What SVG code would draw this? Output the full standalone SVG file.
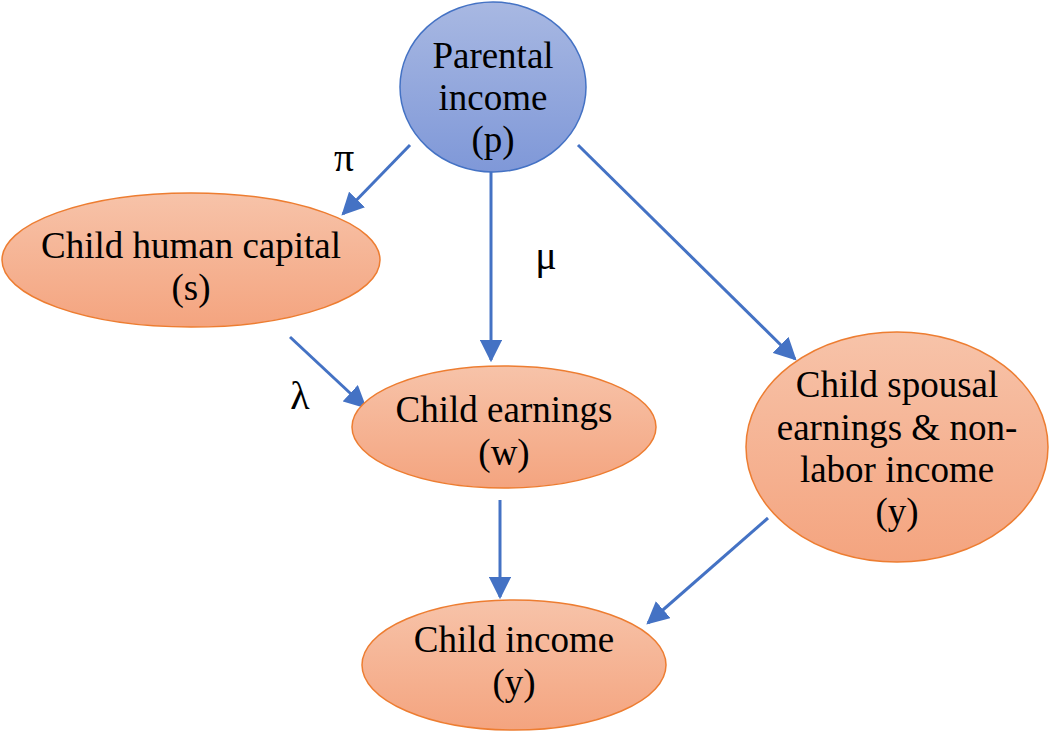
<svg xmlns="http://www.w3.org/2000/svg" width="1049" height="733" viewBox="0 0 1049 733">
<defs>
<linearGradient id="gb" x1="0" y1="0" x2="0" y2="1"><stop offset="0" stop-color="#A8B8E2"/><stop offset="1" stop-color="#7F98D8"/></linearGradient>
<linearGradient id="go" x1="0" y1="0" x2="0" y2="1"><stop offset="0" stop-color="#F7C3A9"/><stop offset="1" stop-color="#F4A47F"/></linearGradient>
<marker id="ah" viewBox="0 0 10 10" refX="9" refY="5" markerWidth="7.5" markerHeight="7.5" markerUnits="strokeWidth" orient="auto"><path d="M0,0 L10,5 L0,10 z" fill="#4472C4"/></marker>
<style>
.o{fill:url(#go);stroke:#ED7D31;stroke-width:1.5}
.b{fill:url(#gb);stroke:#4472C4;stroke-width:1.5}
text{font-family:"Liberation Serif","Times New Roman",serif;font-size:37px;fill:#000;text-anchor:middle}
.g{font-size:40px}
.c line{stroke:#4472C4;stroke-width:3;marker-end:url(#ah)}
</style>
</defs>
<rect width="1049" height="733" fill="#fff"/>
<g class="c" id="connectors">
<line x1="410" y1="145" x2="343" y2="214"/>
<line x1="491" y1="172" x2="491" y2="360"/>
<line x1="578" y1="145" x2="795" y2="359"/>
<line x1="290" y1="337" x2="365" y2="407"/>
<line x1="500" y1="500" x2="500" y2="597"/>
<line x1="768" y1="518" x2="648" y2="623"/>
</g>
<g id="parental"><ellipse class="b" cx="493" cy="87" rx="93" ry="85"/><text x="493" y="68">Parental</text><text x="493" y="110">income</text><text x="493" y="152">(p)</text></g>
<g id="human"><ellipse class="o" cx="191" cy="260" rx="189" ry="67"/><text x="191" y="258">Child human capital</text><text x="191" y="300">(s)</text></g>
<g id="earnings"><ellipse class="o" cx="504" cy="427" rx="152" ry="61"/><text x="504" y="422">Child earnings</text><text x="504" y="465">(w)</text></g>
<g id="spousal"><ellipse class="o" cx="897" cy="447" rx="151" ry="115"/><text x="897" y="397">Child spousal</text><text x="897" y="440">earnings &amp; non-</text><text x="897" y="482">labor income</text><text x="897" y="524">(y)</text></g>
<g id="income"><ellipse class="o" cx="514" cy="665" rx="152" ry="65"/><text x="514" y="652">Child income</text><text x="514" y="695">(y)</text></g>
<g id="labels"><text class="g" x="344" y="171">π</text><text class="g" x="546" y="269">μ</text><text class="g" x="300" y="409">λ</text></g>
</svg>
